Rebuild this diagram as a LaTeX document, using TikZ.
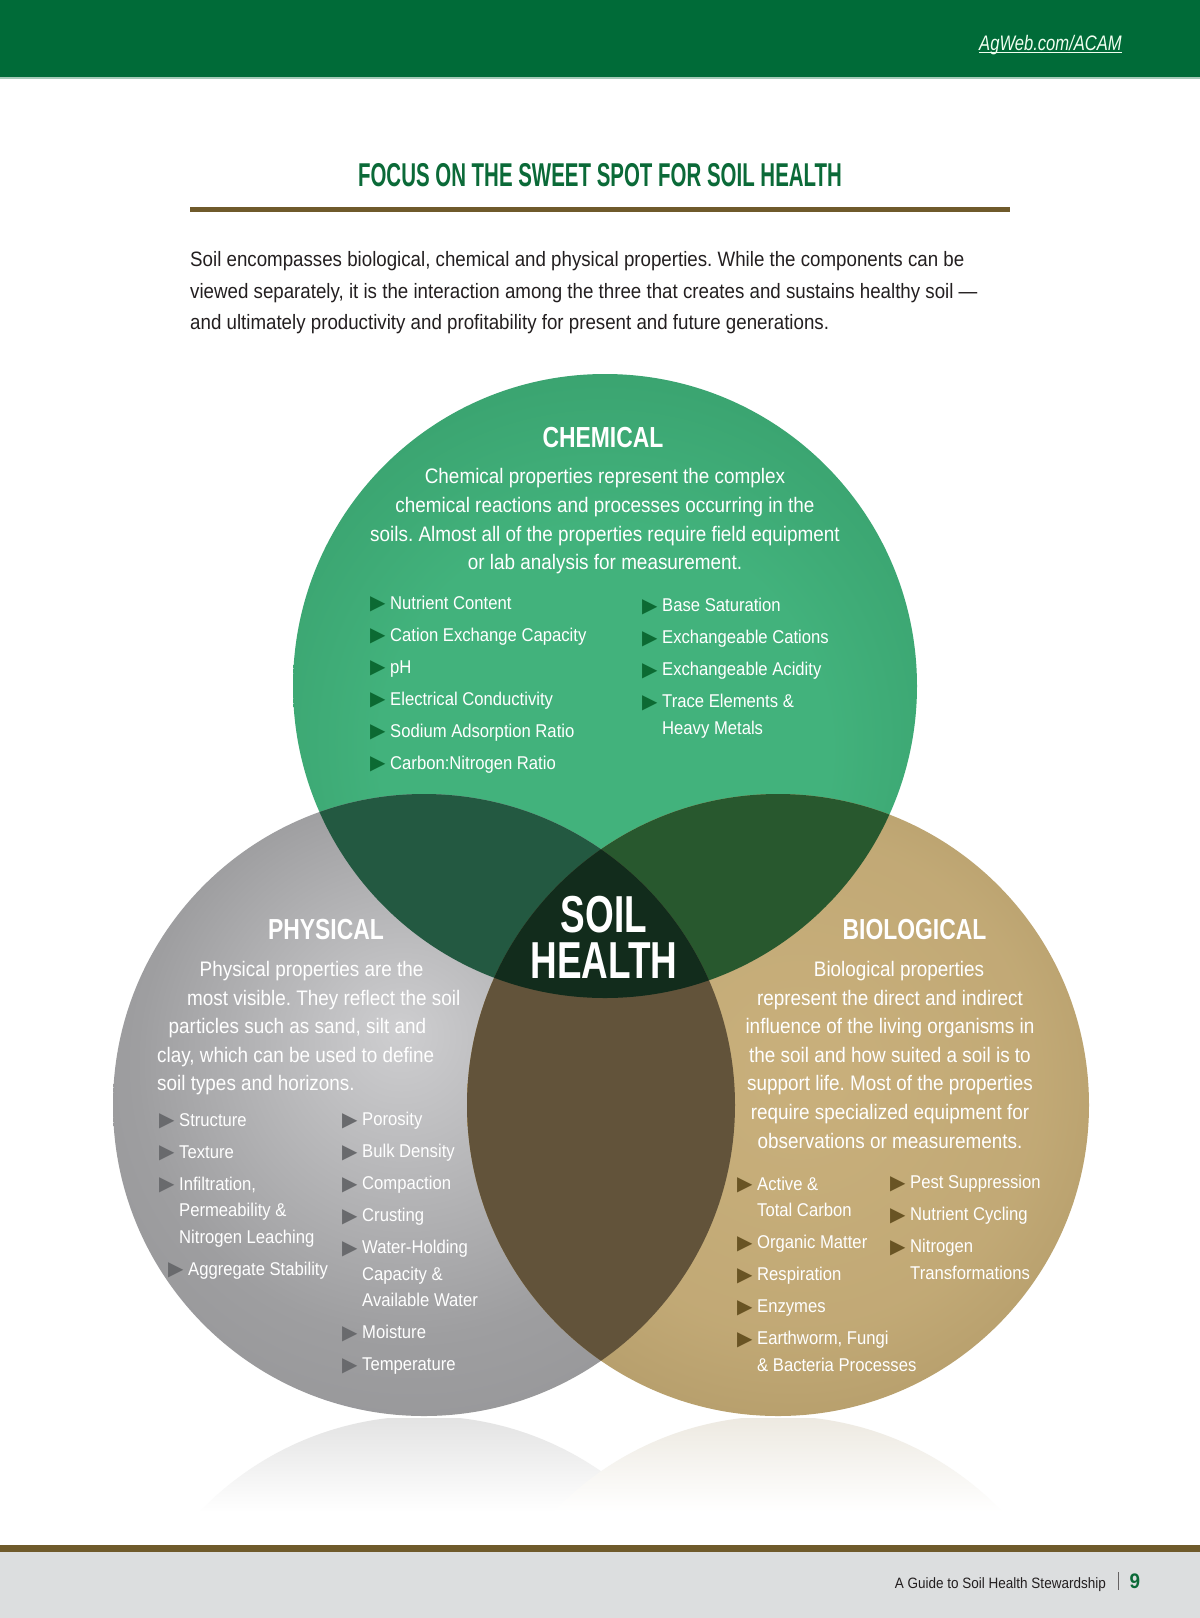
\documentclass[tikz,border=0pt]{standalone}
\usepackage{fontspec}
\setmainfont[FakeStretch=0.9]{Liberation Sans}
\newfontfamily\bodyfont[FakeStretch=0.9]{Liberation Sans}
\newfontfamily\condfont[FakeStretch=0.79]{Liberation Sans}
\newfontfamily\titlefont[FakeStretch=0.62]{Liberation Sans}
\newfontfamily\corefont[FakeStretch=0.71]{Liberation Sans}
\newfontfamily\symfont{DejaVu Sans}
\usepackage{xcolor}
\definecolor{headgreen}{RGB}{0,107,56}
\definecolor{titlegreen}{RGB}{11,106,56}
\definecolor{rulebrown}{RGB}{111,90,43}
\definecolor{inktext}{RGB}{35,31,32}
\definecolor{chemlight}{RGB}{66,178,124}
\definecolor{chemdark}{RGB}{44,136,89}
\definecolor{physlight}{RGB}{206,206,208}
\definecolor{physmid}{RGB}{158,158,160}
\definecolor{physdark}{RGB}{134,134,137}
\definecolor{biolight}{RGB}{201,176,124}
\definecolor{biodark}{RGB}{150,128,80}
\definecolor{chemphys}{RGB}{35,89,65}
\definecolor{chembio}{RGB}{40,88,46}
\definecolor{physbio}{RGB}{98,83,58}
\definecolor{soilcore}{RGB}{18,44,28}
\definecolor{chembul}{RGB}{12,106,51}
\definecolor{physbul}{RGB}{105,106,109}
\definecolor{biobul}{RGB}{105,84,36}
\definecolor{footgrey}{RGB}{220,222,223}
\pgfdeclareradialshading{chemshade}{\pgfpoint{0bp}{-8bp}}{color(0bp)=(chemlight); color(18bp)=(chemlight); color(50bp)=(chemdark)}
\pgfdeclareradialshading{physshade}{\pgfpoint{-2bp}{6bp}}{color(0bp)=(physlight); color(22bp)=(physmid); color(50bp)=(physdark)}
\pgfdeclareradialshading{bioshade}{\pgfpoint{2bp}{3bp}}{color(0bp)=(biolight); color(20bp)=(biolight!85!biodark); color(50bp)=(biodark)}
\newcommand{\bul}[1]{\makebox[20pt][l]{\smash{\raisebox{-0.5pt}{\textcolor{#1}{\symfont\fontsize{20}{20}\selectfont ▶}}}}}
\newcommand{\cont}{\hspace*{20pt}}
\newcommand{\nx}{\\[5.5pt]}
\tikzset{
  circhead/.style={font=\condfont\bfseries\fontsize{29}{29}\selectfont,text=white,inner sep=0pt},
  circdesc/.style={font=\bodyfont\fontsize{21}{28.6}\selectfont,text=white,inner sep=0pt},
  proplist/.style={font=\bodyfont\fontsize{18.5}{26.5}\selectfont,text=white,inner sep=0pt,
    align=left,anchor=north west},
  corelabel/.style={font=\corefont\bfseries\fontsize{52}{46}\selectfont,text=white,inner sep=0pt,
    align=center}
}
\frenchspacing

\begin{document}
\begin{tikzpicture}[x=1pt,y=1pt]
  \useasboundingbox (0,0) rectangle (1200,-1618);
  \fill[white] (0,0) rectangle (1200,-1618);
  % Header band
  \fill[headgreen] (0,0) rectangle (1200,-77);
  \draw[headgreen!35,line width=1.5pt] (0,-77.75) -- (1200,-77.75);
  \node[font=\condfont\itshape\fontsize{21}{21}\selectfont,text=green!6,anchor=base east,
    inner sep=0pt] (agweb) at (1122,-50) {AgWeb.com/ACAM};
  \draw[green!6,line width=1pt] ([yshift=-2.5pt]agweb.base west) -- ([yshift=-2.5pt]agweb.base east);
  % Title and intro
  \node[font=\titlefont\bfseries\fontsize{33}{33}\selectfont,text=titlegreen,inner sep=0pt]
    (title) at (600,-175) {FOCUS ON THE SWEET SPOT FOR SOIL HEALTH};
  \draw[rulebrown,line width=5pt] (190,-209.5) -- (1010,-209.5);
  \node[font=\bodyfont\fontsize{20.8}{31.5}\selectfont,text=inktext,align=left,anchor=north west,
    inner sep=0pt] (intro) at (190,-251.5)
    {Soil encompasses biological, chemical and physical properties. While the components can be\\
     viewed separately, it is the interaction among the three that creates and sustains healthy soil —\\
     and ultimately productivity and profitability for present and future generations.};
  % Reflections
  \begin{scope}
    \clip (424,-1727) circle[radius=311];
    \shade[top color=black!11,bottom color=white] (100,-1418) rectangle (750,-1512);
  \end{scope}
  \begin{scope}
    \clip (778,-1727) circle[radius=311];
    \shade[top color=biodark!17,bottom color=white] (450,-1418) rectangle (1100,-1512);
  \end{scope}
  % Circles
  \coordinate (chemc) at (605,-686);
  \coordinate (physc) at (424,-1105);
  \coordinate (bioc) at (778,-1105);
  \shade[shading=chemshade] (chemc) circle[radius=312];
  \shade[shading=physshade] (physc) circle[radius=311];
  \shade[shading=bioshade] (bioc) circle[radius=311];
  % Overlaps
  \begin{scope}
    \clip (chemc) circle[radius=312];
    \fill[chemphys] (physc) circle[radius=311];
    \fill[chembio] (bioc) circle[radius=311];
  \end{scope}
  \begin{scope}
    \clip (physc) circle[radius=311];
    \fill[physbio] (bioc) circle[radius=311];
  \end{scope}
  \begin{scope}
    \clip (chemc) circle[radius=312];
    \clip (physc) circle[radius=311];
    \fill[soilcore] (bioc) circle[radius=311];
  \end{scope}
  % Chemical
  \node[circhead] (chemhead) at (603,-438) {CHEMICAL};
  \node[circdesc,align=center,anchor=north] (chemdesc) at (605,-468.5)
    {Chemical properties represent the complex\\
     chemical reactions and processes occurring in the\\
     soils. Almost all of the properties require field equipment\\
     or lab analysis for measurement.};
  \node[proplist] (chemleft) at (370,-595.5)
    {\bul{chembul}Nutrient Content\nx
     \bul{chembul}Cation Exchange Capacity\nx
     \bul{chembul}pH\nx
     \bul{chembul}Electrical Conductivity\nx
     \bul{chembul}Sodium Adsorption Ratio\nx
     \bul{chembul}Carbon:Nitrogen Ratio};
  \node[proplist] (chemright) at (642,-598)
    {\bul{chembul}Base Saturation\nx
     \bul{chembul}Exchangeable Cations\nx
     \bul{chembul}Exchangeable Acidity\nx
     \bul{chembul}Trace Elements \&\\
     \cont Heavy Metals};
  % Physical
  \node[circhead] (physhead) at (326,-929.5) {PHYSICAL};
  \node[circdesc,align=left,anchor=north west] (physdesc) at (157,-961)
    {\hspace*{42.5pt}Physical properties are the\\
     \hspace*{30pt}most visible. They reflect the soil\\
     \hspace*{11.5pt}particles such as sand, silt and\\
     clay, which can be used to define\\
     soil types and horizons.};
  \node[proplist] (physleft) at (159,-1113)
    {\bul{physbul}Structure\nx
     \bul{physbul}Texture\nx
     \bul{physbul}Infiltration,\\
     \cont Permeability \&\\
     \cont Nitrogen Leaching\nx
     \hspace*{9pt}\bul{physbul}Aggregate Stability};
  \node[proplist] (physright) at (342,-1112)
    {\bul{physbul}Porosity\nx
     \bul{physbul}Bulk Density\nx
     \bul{physbul}Compaction\nx
     \bul{physbul}Crusting\nx
     \bul{physbul}Water-Holding\\
     \cont Capacity \&\\
     \cont Available Water\nx
     \bul{physbul}Moisture\nx
     \bul{physbul}Temperature};
  % Biological
  \node[circhead] (biohead) at (914.5,-929.5) {BIOLOGICAL};
  \node[circdesc,align=center,anchor=north] (biodesc) at (890,-961)
    {\hspace*{18pt}Biological properties\\
     represent the direct and indirect\\
     influence of the living organisms in\\
     the soil and how suited a soil is to\\
     support life. Most of the properties\\
     require specialized equipment for\\
     observations or measurements.};
  \node[proplist] (bioleft) at (737,-1176.5)
    {\bul{biobul}Active \&\\
     \cont Total Carbon\nx
     \bul{biobul}Organic Matter\nx
     \bul{biobul}Respiration\nx
     \bul{biobul}Enzymes\nx
     \bul{biobul}Earthworm, Fungi\\
     \cont \& Bacteria Processes};
  \node[proplist] (bioright) at (890,-1175)
    {\bul{biobul}Pest Suppression\nx
     \bul{biobul}Nutrient Cycling\nx
     \bul{biobul}Nitrogen\\
     \cont Transformations};
  % Sweet spot
  \node[corelabel,anchor=north] (soilhealth) at (604,-895.5) {SOIL\\HEALTH};
  % Footer
  \fill[rulebrown] (0,-1545) rectangle (1200,-1552);
  \fill[footgrey] (0,-1552) rectangle (1200,-1618);
  \node[font=\bodyfont\fontsize{15}{15}\selectfont,text=inktext,anchor=base east,inner sep=0pt]
    (guide) at (1106,-1588) {A Guide to Soil Health Stewardship};
  \draw[inktext!70,line width=0.8pt] (1118,-1572) -- (1118,-1590);
  \node[font=\bodyfont\bfseries\fontsize{21}{21}\selectfont,text=titlegreen,anchor=base west,
    inner sep=0pt] (pageno) at (1129.5,-1588) {9};
\end{tikzpicture}
\end{document}
